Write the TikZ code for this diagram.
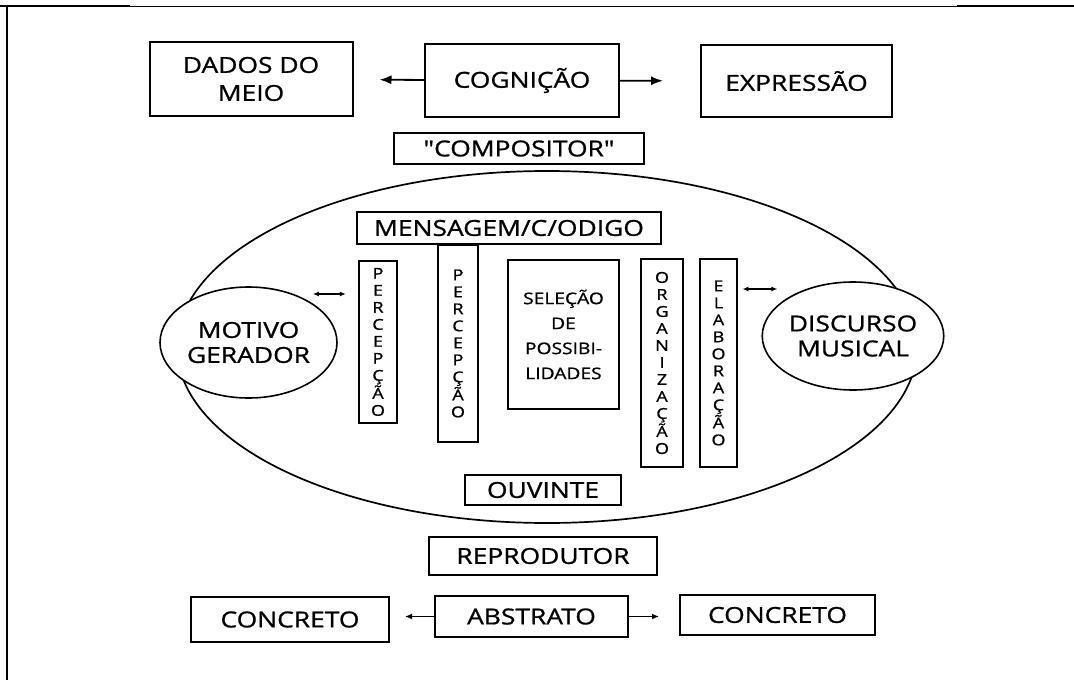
\documentclass[tikz,border=0pt]{standalone}
\usepackage{fontspec}
\setmainfont[FakeStretch=1.2,FakeBold=1]{Open Sans}
\newfontfamily\plainquote[FakeStretch=1.2,FakeBold=1]{Open Sans}
\usepackage{tikz}
\usetikzlibrary{arrows.meta,shapes.geometric}

\begin{document}
\begin{tikzpicture}[x=1pt,y=-1pt]
    \tikzset{box/.style = {shape=rectangle, draw, line width=2pt, inner sep=0pt, align=center, font=\fontsize{22}{28}\selectfont}}
    \tikzset{strip/.style = {box, font=\fontsize{15}{17}\selectfont}}
    \tikzset{oval/.style = {shape=ellipse, draw, fill=white, line width=1.6pt, inner sep=0pt, align=center, font=\fontsize{22}{25}\selectfont}}
    \tikzset{edge/.style = {-{Latex[length=12pt,width=9pt]}, line width=1.8pt}}
    \tikzset{smalledge/.style = {-{Latex[length=7pt,width=6pt]}, line width=1.4pt}}
    \tikzset{twoway/.style = {{Latex[length=6pt,width=5pt]}-{Latex[length=6pt,width=5pt]}, line width=1.3pt}}

    \useasboundingbox (0,0) rectangle (1074,680);

    % page frame
    \draw[line width=2pt] (0,6) -- (130,6);
    \draw[line width=0.8pt] (130,6) -- (957,6);
    \draw[line width=2pt] (957,6) -- (1074,6);
    \draw[line width=2pt] (7,6) -- (7,680);

    \draw[line width=1.7pt] (547,347) ellipse [x radius=370, y radius=176];

    \node[box, minimum width=203, minimum height=74] (dados) at (251,79) {DADOS DO\\MEIO};
    \node[box, minimum width=194, minimum height=73] (cog) at (522,80.5) {COGNIÇÃO};
    \node[box, minimum width=191, minimum height=72] (expr) at (796.5,81) {EXPRESSÃO};
    \node[box, minimum width=250, minimum height=31] (comp) at (519,148.5) {{\plainquote"}COMPOSITOR{\plainquote"}};

    \node[box, minimum width=304, minimum height=32] (msg) at (509,228) {MENSAGEM/C/ODIGO};
    \node[strip, minimum width=38, minimum height=162] (perc1) at (378,342) {P\\E\\R\\C\\E\\P\\Ç\\Ã\\O};
    \node[strip, minimum width=40, minimum height=197] (perc2) at (458,343.5) {P\\E\\R\\C\\E\\P\\Ç\\Ã\\O};
    \node[box, minimum width=111, minimum height=149, font=\fontsize{16}{25}\selectfont] (sel) at (563.5,334.5) {SELEÇÃO\\DE\\POSSIBI-\\LIDADES};
    \node[strip, minimum width=42, minimum height=208] (org) at (662,363) {O\\R\\G\\A\\N\\I\\Z\\A\\Ç\\Ã\\O};
    \node[strip, minimum width=37, minimum height=208] (elab) at (718.5,363) {E\\L\\A\\B\\O\\R\\A\\Ç\\Ã\\O};
    \node[box, minimum width=156, minimum height=30] (ouv) at (543,490) {OUVINTE};

    \node[oval, minimum width=177, minimum height=111] (motivo) at (248.5,342.5) {MOTIVO\\GERADOR};
    \node[oval, minimum width=172, minimum height=108] (disc) at (853,336) {DISCURSO\\MUSICAL};

    \node[box, minimum width=228, minimum height=38] (repro) at (543,556) {REPRODUTOR};
    \node[box, minimum width=198, minimum height=45] (conc1) at (290,619.5) {CONCRETO};
    \node[box, minimum width=193, minimum height=41] (abs) at (531.5,616.5) {ABSTRATO};
    \node[box, minimum width=195, minimum height=40] (conc2) at (777.5,615) {CONCRETO};

    \draw[edge, shorten >=26pt] (cog) -- (dados);
    \draw[edge, shorten >=37pt] (cog) -- (expr);
    \draw[smalledge, shorten >=15pt] (abs.west) -- (conc1.east |- abs.west);
    \draw[smalledge, shorten >=20pt] (abs.east) -- (conc2.west |- abs.east);
    \draw[twoway] (motivo.east) ++(-25,-48.5) -- ++(33,0);
    \draw[twoway] (disc.west) ++(-19,-47) -- ++(35,0);
\end{tikzpicture}
\end{document}
